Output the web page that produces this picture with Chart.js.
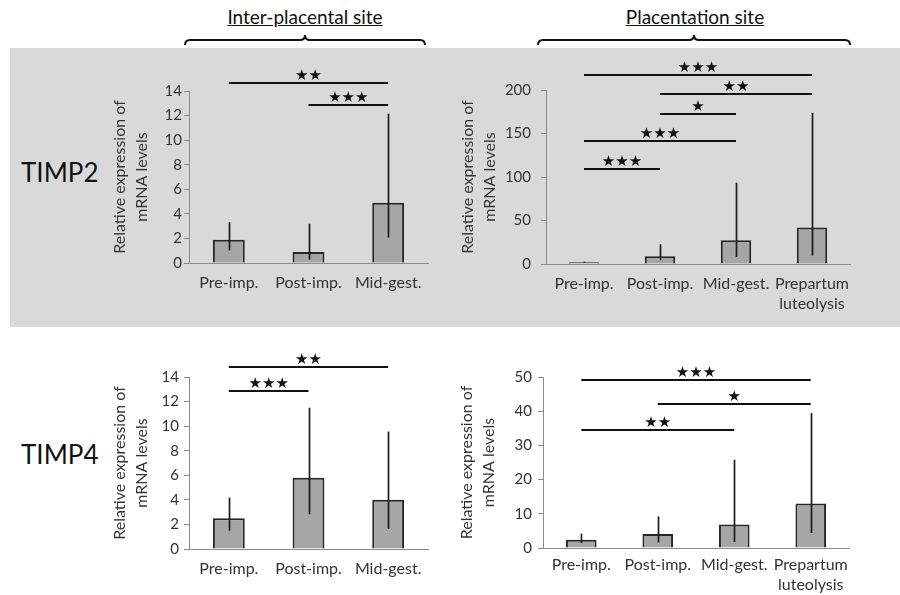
<!DOCTYPE html>
<html lang="en">
<head>
<meta charset="UTF-8">
<title>TIMP2 / TIMP4 expression</title>
<script src="https://cdn.jsdelivr.net/npm/chart.js"></script>
<style>
  body { margin: 0; width: 900px; height: 595px; background: #fff; position: relative; overflow: hidden; font-family: Lato, sans-serif; }
  .band { position: absolute; left: 10px; top: 48px; width: 890px; height: 279px; background: #d9d9d9; }
  .head { position: absolute; top: 5px; font-size: 19px; color: #111; text-decoration: underline; transform: translateX(-50%); white-space: nowrap; }
  .row { position: absolute; left: 21px; font-size: 26px; color: #111; }
  .panel { position: absolute; }
  svg { position: absolute; left: 0; top: 0; }
</style>
</head>
<body>
<div class="band"></div>
<div class="head" style="left:305px">Inter-placental site</div>
<div class="head" style="left:695px">Placentation site</div>
<svg width="900" height="60">
  <path d="M185,45 Q185,40 190,40 H300 Q305,40 305,35 Q305,40 310,40 H420 Q425,40 425,45" fill="none" stroke="#111" stroke-width="2"/>
  <path d="M538,45 Q538,40 543,40 H689 Q694,40 694,35 Q694,40 699,40 H845 Q850,40 850,45" fill="none" stroke="#111" stroke-width="2"/>
</svg>
<div class="row" style="top:156px">TIMP2</div>
<div class="row" style="top:438px">TIMP4</div>

<canvas id="c1" class="panel" style="left:100px;top:50px" width="340" height="275"></canvas>
<canvas id="c2" class="panel" style="left:450px;top:50px" width="440" height="290"></canvas>
<canvas id="c3" class="panel" style="left:100px;top:340px" width="340" height="255"></canvas>
<canvas id="c4" class="panel" style="left:450px;top:340px" width="440" height="255"></canvas>

<script>
  // categories
  const interCategories = ['Pre-imp.', 'Post-imp.', 'Mid-gest.'];
  const placCategories = ['Pre-imp.', 'Post-imp.', 'Mid-gest.', ['Prepartum', 'luteolysis']];

  // TIMP2, inter-placental site
  const timp2InterMean = [1.9, 0.9, 4.9];
  const timp2InterLow = [1.02, 0.27, 2.07];
  const timp2InterHigh = [3.32, 3.19, 12.15];
  const timp2InterSig = [[0, 2, 14.65, '★★'], [1, 2, 12.84, '★★★']];

  // TIMP2, placentation site
  const timp2PlacMean = [2.0, 8.9, 27.3, 42];
  const timp2PlacLow = [1.4, 4.3, 8.1, 9.7];
  const timp2PlacHigh = [2.6, 22.7, 93.4, 173.5];
  const timp2PlacSig = [[0, 3, 217.6, '★★★'], [1, 3, 195.4, '★★'], [1, 2, 172.3, '★'], [0, 2, 141.9, '★★★'], [0, 1, 108.9, '★★★']];

  // TIMP4, inter-placental site
  const timp4InterMean = [2.5, 5.8, 4.0];
  const timp4InterLow = [1.49, 2.83, 1.63];
  const timp4InterHigh = [4.18, 11.5, 9.56];
  const timp4InterSig = [[0, 2, 14.8, '★★'], [0, 1, 12.82, '★★★']];

  // TIMP4, placentation site
  const timp4PlacMean = [2.43, 4.1, 6.9, 13.0];
  const timp4PlacLow = [1.46, 1.65, 1.75, 4.4];
  const timp4PlacHigh = [4.2, 9.25, 25.8, 39.5];
  const timp4PlacSig = [[0, 3, 49.0, '★★★'], [1, 3, 42.1, '★'], [0, 2, 34.6, '★★']];

  const yTitle = ['Relative expression of', 'mRNA levels'];
  const textColor = '#333';
  const axisColor = '#8a8a8a';

  function drawPanel(id, labels, mean, low, high, sig, yMax, yStep, lay) {
    const extras = {
      id: 'extras' + id,
      afterDatasetsDraw(chart) {
        const ctx = chart.ctx;
        const x = chart.scales.x, y = chart.scales.y;
        const meta = chart.getDatasetMeta(0);
        ctx.save();
        // error bars
        ctx.strokeStyle = '#1c1c1c';
        ctx.lineWidth = 1.7;
        low.forEach((lo, i) => {
          const px = Math.round(meta.data[i].x) + 0.5;
          ctx.beginPath();
          ctx.moveTo(px, y.getPixelForValue(lo));
          ctx.lineTo(px, y.getPixelForValue(high[i]));
          ctx.stroke();
        });
        // significance lines
        ctx.strokeStyle = '#111';
        ctx.fillStyle = '#111';
        ctx.lineWidth = 1.8;
        ctx.font = '15px "DejaVu Sans"';
        ctx.textAlign = 'center';
        ctx.textBaseline = 'middle';
        sig.forEach(([a, b, v, s]) => {
          const x1 = x.getPixelForValue(a), x2 = x.getPixelForValue(b);
          const py = Math.round(y.getPixelForValue(v));
          ctx.beginPath();
          ctx.moveTo(x1, py);
          ctx.lineTo(x2, py);
          ctx.stroke();
          ctx.fillText(s, (x1 + x2) / 2, py - 7);
        });
        ctx.restore();
      }
    };

    new Chart(document.getElementById(id), {
      type: 'bar',
      data: {
        labels: labels,
        datasets: [{
          data: mean,
          backgroundColor: '#a6a6a6',
          borderColor: '#262626',
          borderWidth: 2,
          barPercentage: 0.4,
          categoryPercentage: 1
        }]
      },
      options: {
        responsive: false,
        animation: false,
        events: [],
        layout: { padding: lay.pad },
        plugins: { legend: { display: false }, tooltip: { enabled: false } },
        scales: {
          x: {
            grid: { display: false, drawTicks: false },
            border: { display: true, color: axisColor, width: 1 },
            ticks: { color: textColor, font: { family: 'Lato', size: 16, lineHeight: 1.25 }, padding: lay.xPad, maxRotation: 0, autoSkip: false },
            afterFit: s => { s.height = lay.xH; }
          },
          y: {
            min: 0,
            max: yMax,
            grid: { drawOnChartArea: false, color: axisColor, tickLength: 5 },
            border: { display: true, color: axisColor, width: 1 },
            ticks: { stepSize: yStep, color: textColor, font: { family: 'Lato', size: 15 }, padding: lay.yPad },
            title: { display: true, text: yTitle, color: textColor, font: { family: 'Lato', size: 16, lineHeight: 1.35 }, padding: 0 },
            afterFit: s => { s.width = lay.yW; }
          }
        }
      },
      plugins: [extras]
    });
  }

  drawPanel('c1', interCategories, timp2InterMean, timp2InterLow, timp2InterHigh, timp2InterSig, 14, 2,
    { pad: { left: 9, top: 41, right: 12, bottom: 12 }, yW: 80, xH: 50, xPad: 10, yPad: 2 });
  drawPanel('c2', placCategories, timp2PlacMean, timp2PlacLow, timp2PlacHigh, timp2PlacSig, 200, 50,
    { pad: { left: 7, top: 40, right: 40, bottom: 10 }, yW: 89, xH: 66, xPad: 10, yPad: 10 });
  drawPanel('c3', interCategories, timp4InterMean, timp4InterLow, timp4InterHigh, timp4InterSig, 14, 2,
    { pad: { left: 9, top: 37, right: 12, bottom: 6 }, yW: 80, xH: 40, xPad: 10, yPad: 5 });
  drawPanel('c4', placCategories, timp4PlacMean, timp4PlacLow, timp4PlacHigh, timp4PlacSig, 50, 10,
    { pad: { left: 6, top: 37, right: 41, bottom: 2 }, yW: 87, xH: 45, xPad: 7, yPad: 6 });
</script>
</body>
</html>
